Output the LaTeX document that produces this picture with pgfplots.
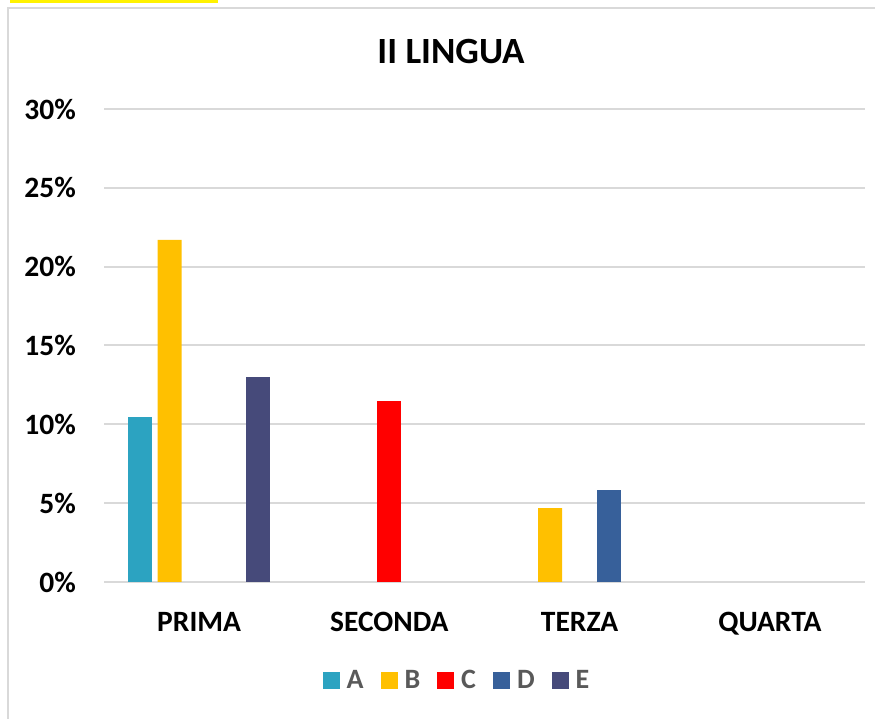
\documentclass[border=0pt]{standalone}
\usepackage{fontspec}
\setmainfont{Carlito}
\usepackage{pgfplots}
\pgfplotsset{compat=1.18}
\definecolor{cA}{RGB}{44,163,193}
\definecolor{cB}{RGB}{255,192,0}
\definecolor{cC}{RGB}{255,0,0}
\definecolor{cD}{RGB}{55,96,154}
\definecolor{cE}{RGB}{70,74,122}
\definecolor{gridgray}{RGB}{217,217,217}
\definecolor{legtext}{RGB}{89,89,89}

\begin{document}
\begin{tikzpicture}
\useasboundingbox (0,0) rectangle (875pt,719pt);
% frame and the yellow strip at the top
\draw[gridgray, line width=2pt] (8pt,-20pt) rectangle (900pt,711pt);
\fill[yellow] (10pt,716pt) rectangle (218pt,722pt);
\node[anchor=base, font=\fontsize{37}{40}\selectfont\bfseries] at (451pt,655pt) {II LINGUA};
\begin{axis}[
  at={(104pt,137pt)}, anchor=south west,
  scale only axis, width=761pt, height=473pt,
  ybar=5.5pt, bar width=24pt,
  xmin=-0.5, xmax=3.5, ymin=0, ymax=30,
  xtick={0,1,2,3}, xticklabels={PRIMA,SECONDA,TERZA,QUARTA},
  ytick={0,5,...,30},
  yticklabel={\pgfmathparse{int(\tick)}\pgfmathresult\%},
  ymajorgrids, grid style={gridgray, line width=2pt},
  axis line style={draw=none}, major tick length=0pt,
  tick label style={font=\fontsize{29.5}{32}\selectfont\bfseries, inner sep=0pt},
  yticklabel style={anchor=east, xshift=-28pt},
  xticklabel style={anchor=north, yshift=-30pt},
  legend columns=5,
  legend style={at={(0.4625,-0.2072)}, anchor=center, draw=none,
    font=\fontsize{28}{30}\selectfont\bfseries, text=legtext,
    nodes={inner sep=0pt},
    /tikz/every odd column/.append style={column sep=7pt},
    /tikz/every even column/.append style={column sep=17pt}},
  legend image code/.code={\fill[#1] (0pt,-8.5pt) rectangle (17pt,8.5pt);},
]
\addplot[fill=cA, draw=none] coordinates {(0,10.46)};
\addplot[fill=cB, draw=none] coordinates {(0,21.7) (2,4.69)};
\addplot[fill=cC, draw=none] coordinates {(1,11.48)};
\addplot[fill=cD, draw=none] coordinates {(2,5.83)};
\addplot[fill=cE, draw=none] coordinates {(0,13.0)};
\legend{A,B,C,D,E}
\end{axis}
\end{tikzpicture}
\end{document}
